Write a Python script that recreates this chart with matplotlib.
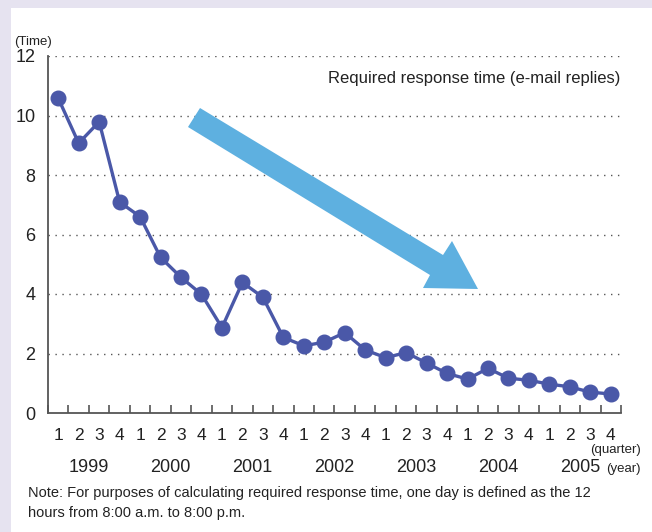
import matplotlib
matplotlib.use("Agg")
import matplotlib.pyplot as plt
import matplotlib.transforms as mtransforms
from matplotlib.patches import Polygon, Rectangle
from matplotlib.ticker import FixedLocator, NullFormatter
import numpy as np

# ---- data ----
years = ["1999", "2000", "2001", "2002", "2003", "2004", "2005"]
quarters = ["1", "2", "3", "4"]
response_time = [10.58, 9.07, 9.79, 7.09,
                 6.60, 5.23, 4.56, 3.99,
                 2.87, 4.39, 3.89, 2.54,
                 2.26, 2.38, 2.70, 2.12,
                 1.86, 2.03, 1.68, 1.33,
                 1.14, 1.50, 1.17, 1.10,
                 0.97, 0.88, 0.70, 0.64]
y_ticks = [0, 2, 4, 6, 8, 10, 12]

W, H = 652, 532
fig = plt.figure(figsize=(W / 100, H / 100), dpi=100, facecolor="white")

def fx(px):
    return px / W

def fy(py):
    return 1 - py / H

# lavender frame strips
lav = "#e6e3f0"
fig.patches.append(Rectangle((0, fy(8)), 1, 8 / H, transform=fig.transFigure,
                             facecolor=lav, edgecolor="none", zorder=0))
fig.patches.append(Rectangle((0, 0), fx(11), 1, transform=fig.transFigure,
                             facecolor=lav, edgecolor="none", zorder=0))

ax = fig.add_axes([fx(48), fy(413), fx(621) - fx(48), fy(56) - fy(413)])
ax.set_facecolor("none")

n = len(response_time)
xs = np.arange(n) + 0.5
line_col = "#4a58a8"
ax.plot(xs, response_time, color=line_col, lw=2.4, marker="o", ms=10.5,
        markerfacecolor=line_col, markeredgecolor=line_col, zorder=5,
        clip_on=False)

ax.set_xlim(0, n)
ax.set_ylim(0, 12)

for s in ["top", "right"]:
    ax.spines[s].set_visible(False)
for s in ["left", "bottom"]:
    ax.spines[s].set_color("#555555")
    ax.spines[s].set_linewidth(1.3)

# gridlines
for v in y_ticks[1:]:
    ax.axhline(v, color="#555555", lw=1.0, ls=(0, (1, 4)), zorder=1)

sans = ["Liberation Sans", "DejaVu Sans"]

# y ticks
ax.set_yticks(y_ticks)
ax.set_yticklabels([str(v) for v in y_ticks], fontsize=13, family=sans,
                   color="#222222")
ax.tick_params(axis="y", length=0, pad=9)

# x ticks: labels at quarter centres, tick marks at boundaries
ax.set_xticks(xs)
ax.set_xticklabels(quarters * len(years), fontsize=12.5, family=sans,
                   color="#222222")
ax.tick_params(axis="x", which="major", length=0, pad=11)
ax.xaxis.set_minor_locator(FixedLocator(np.arange(0, n + 1)))
ax.xaxis.set_minor_formatter(NullFormatter())
ax.tick_params(axis="x", which="minor", direction="in", length=6,
               width=1.2, color="#555555")

# year labels
tr = mtransforms.blended_transform_factory(ax.transData, fig.transFigure)
for k, yr in enumerate(years):
    ax.text(4 * k + 2, fy(472), yr, transform=tr, ha="center", va="baseline",
            fontsize=13, family=sans, color="#222222")

fig.text(fx(641), fy(453), "(quarter)", ha="right", va="baseline", fontsize=9.5,
         family=sans, color="#222222")
fig.text(fx(606), fy(472), "(year)", ha="left", va="baseline", fontsize=9.5,
         family=sans, color="#222222")
fig.text(fx(14), fy(42), "(Time)", ha="left", va="center", fontsize=9.5,
         family=sans, color="#222222")

fig.text(fx(620), fy(78), "Required response time (e-mail replies)", ha="right",
         va="center", fontsize=12, family=sans, color="#222222")

fig.text(fx(28), fy(493),
         "Note: For purposes of calculating required response time, one day is defined as the 12",
         ha="left", va="center", fontsize=10.5, family=sans, color="#222222")
fig.text(fx(28), fy(513), "hours from 8:00 a.m. to 8:00 p.m.",
         ha="left", va="center", fontsize=10.5, family=sans, color="#222222")

# decorative arrow
arrow_px = [(200, 108), (443, 255), (452, 241), (478, 289), (423, 288),
            (430, 275), (188, 127)]
arrow = Polygon([(fx(x), fy(y)) for x, y in arrow_px], closed=True,
                transform=fig.transFigure, facecolor="#5eb0e0",
                edgecolor="none", zorder=3)
fig.patches.append(arrow)

fig.savefig("out.png", dpi=100, facecolor="white")
